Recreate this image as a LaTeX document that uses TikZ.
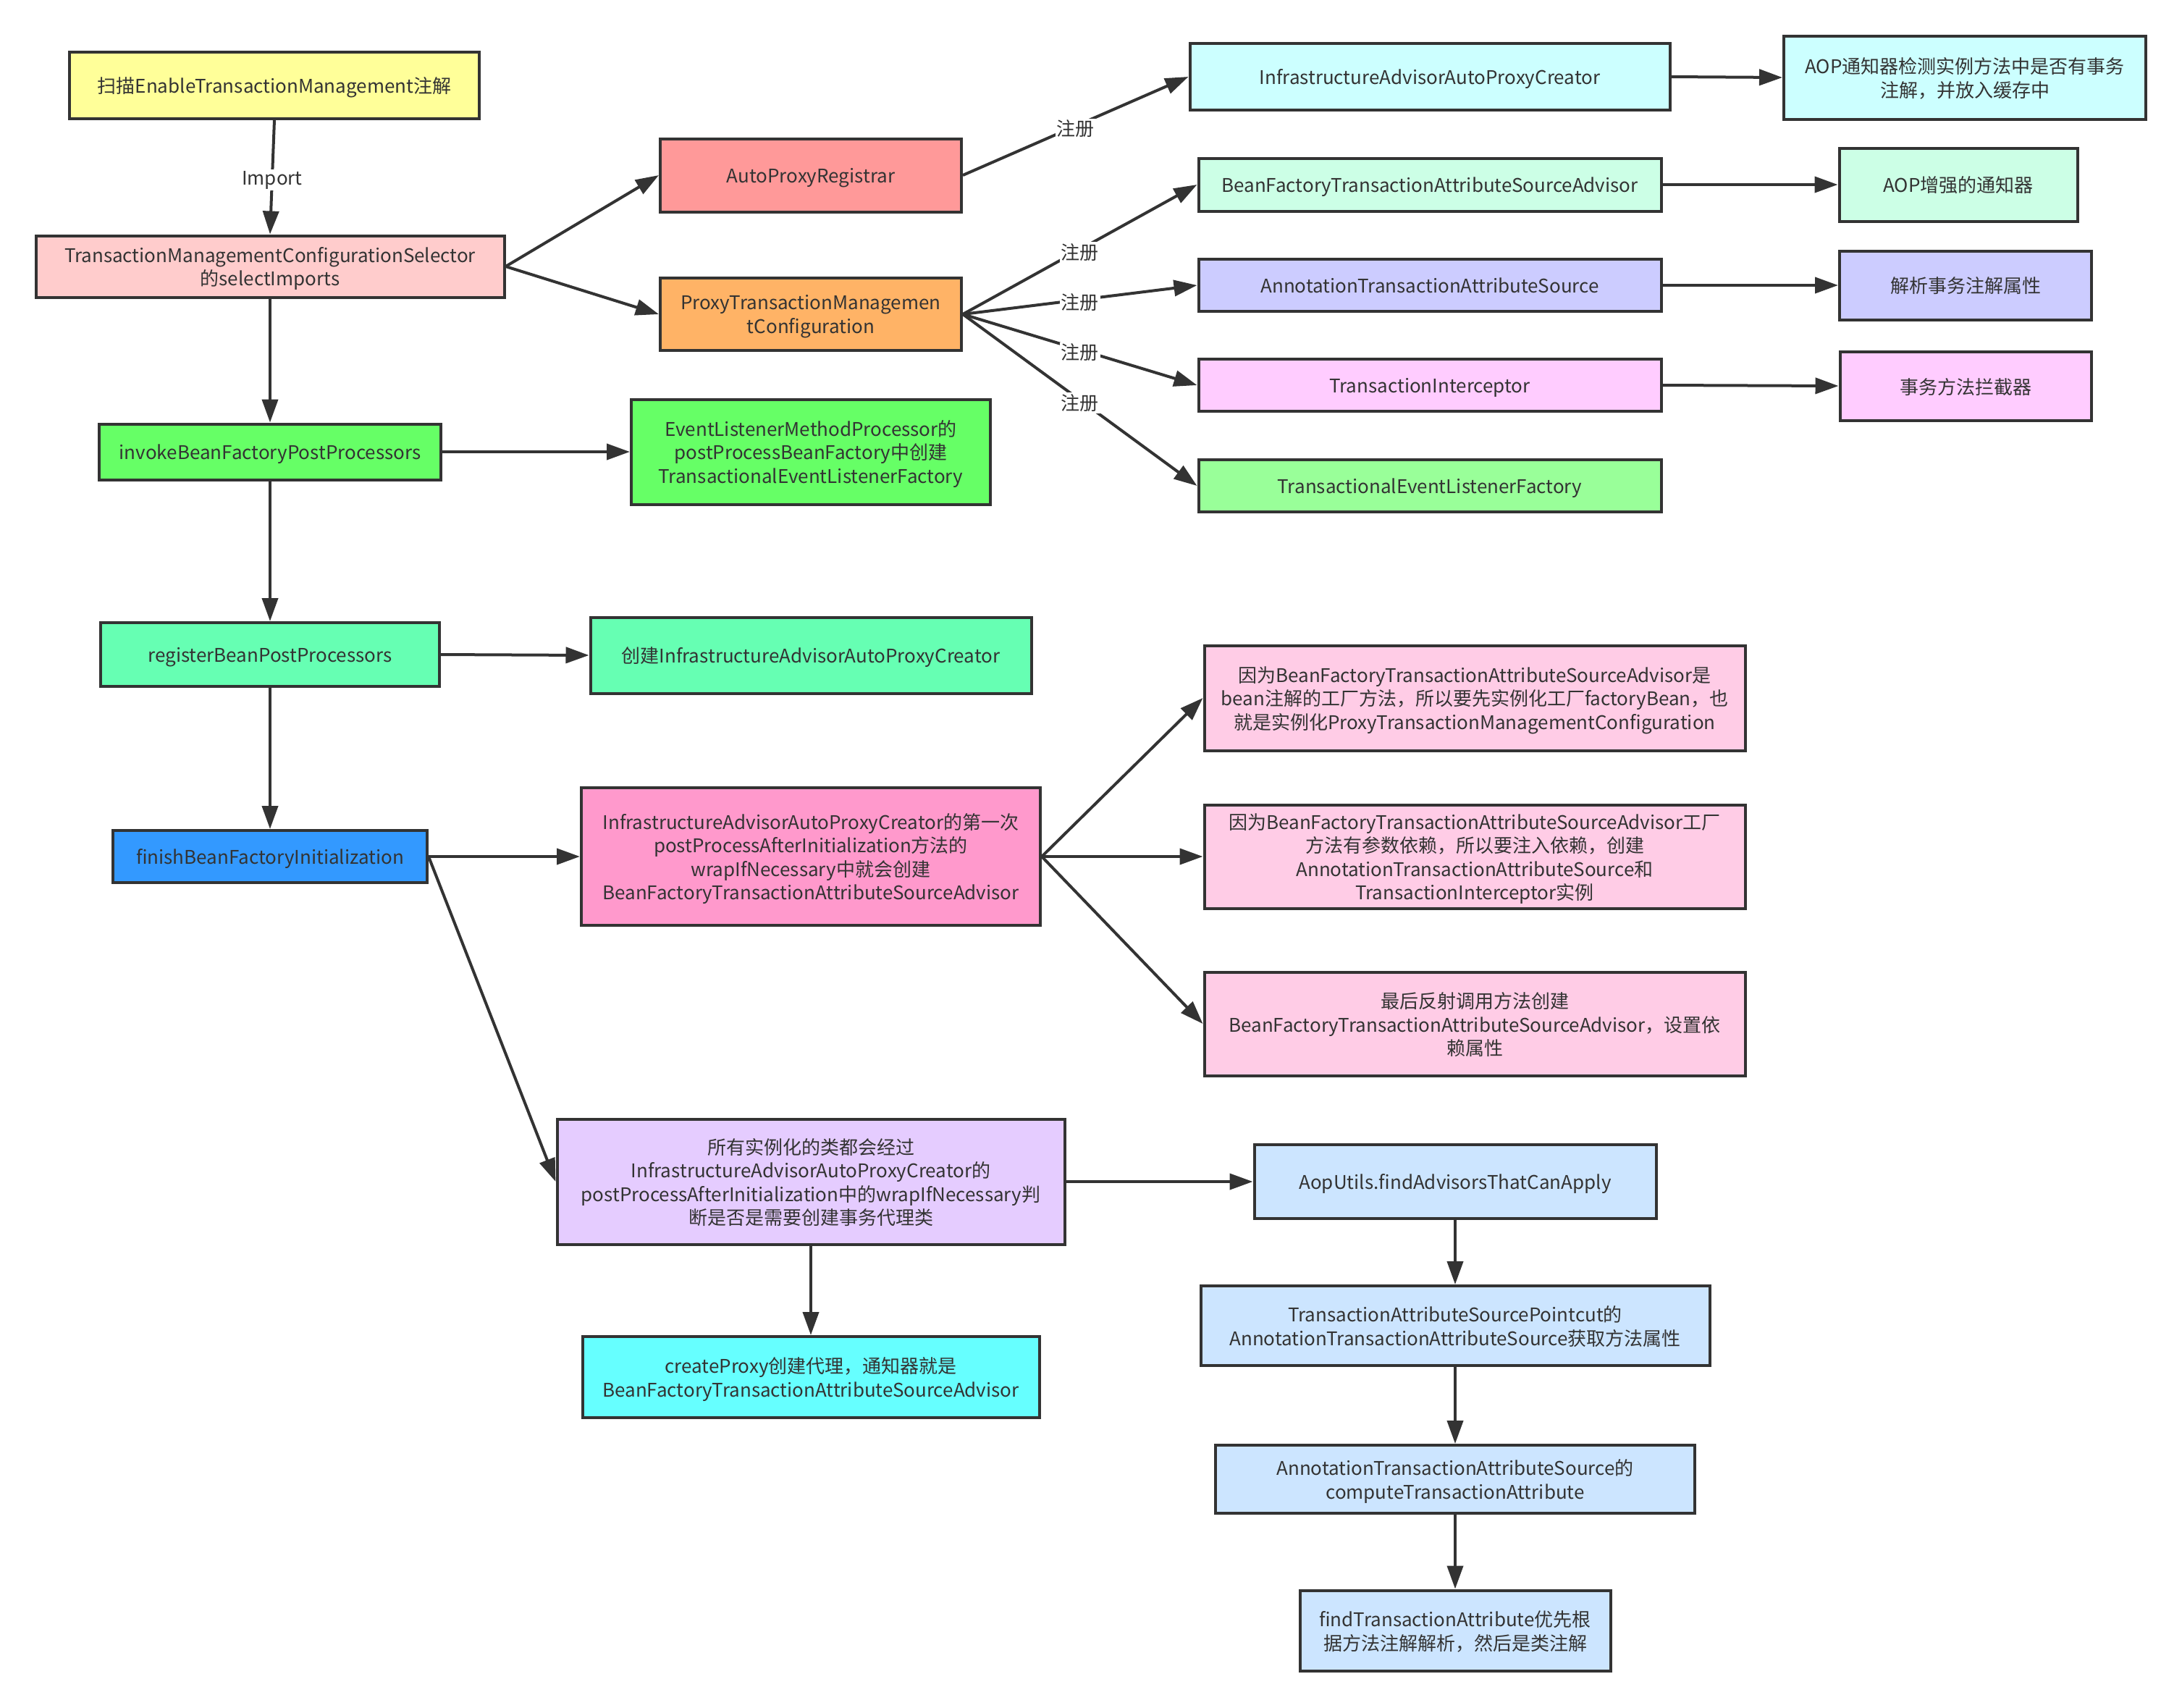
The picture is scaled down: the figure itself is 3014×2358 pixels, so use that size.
\documentclass[tikz,border=0pt]{standalone}
\usepackage{fontspec}
\setmainfont{Noto Sans CJK SC}
\usetikzlibrary{arrows.meta}
\definecolor{ink}{HTML}{333333}
\definecolor{cyel}{HTML}{FFFF99}
\definecolor{csel}{HTML}{FFCCCC}
\definecolor{capr}{HTML}{FF9999}
\definecolor{cptm}{HTML}{FFB366}
\definecolor{cgrn}{HTML}{66FF66}
\definecolor{creg}{HTML}{66FFB3}
\definecolor{cfin}{HTML}{3399FF}
\definecolor{cfst}{HTML}{FF99CC}
\definecolor{call}{HTML}{E5CCFF}
\definecolor{cprx}{HTML}{66FFFF}
\definecolor{ccyn}{HTML}{CCFFFF}
\definecolor{cmnt}{HTML}{CCFFE6}
\definecolor{clil}{HTML}{CCCCFF}
\definecolor{cmag}{HTML}{FFCCFF}
\definecolor{clim}{HTML}{99FF99}
\definecolor{cwhy}{HTML}{FFCCE6}
\definecolor{cblu}{HTML}{CCE5FF}
\begin{document}
\begin{tikzpicture}[x=0.5pt,y=-0.5pt,
  every node/.style={font=\fontsize{13}{16.2}\selectfont,text=ink},
  box/.style={draw=ink,line width=2pt,align=center,inner sep=0pt,text depth=-1pt},
  sz/.style 2 args={minimum width=#1*0.5pt,minimum height=#2*0.5pt},
  conn/.style={draw=ink,line width=2pt,-{Triangle[length=16pt,width=11pt]}},
  lab/.style={fill=white,inner sep=1pt,yshift=-2pt}]
\useasboundingbox (0,0) rectangle (3014,2358);
\node[box,sz={566}{92},fill=cyel] (scan) at (379,118) {扫描EnableTransactionManagement注解};
\node[box,sz={647}{85},fill=csel] (sel) at (373,368) {TransactionManagementConfigurationSelector\\的selectImports};
\node[box,sz={416}{101},fill=capr] (apr) at (1120,242) {AutoProxyRegistrar};
\node[box,sz={416}{100},fill=cptm] (ptmc) at (1120,434) {ProxyTransactionManagemen\\tConfiguration};
\node[box,sz={472}{77},fill=cgrn] (invoke) at (373,624) {invokeBeanFactoryPostProcessors};
\node[box,sz={496}{145},fill=cgrn] (elmp) at (1120,624) {EventListenerMethodProcessor的\\postProcessBeanFactory中创建\\TransactionalEventListenerFactory};
\node[box,sz={468}{88},fill=creg] (reg) at (373,904) {registerBeanPostProcessors};
\node[box,sz={609}{105},fill=creg] (create) at (1120,905) {创建InfrastructureAdvisorAutoProxyCreator};
\node[box,sz={434}{72},fill=cfin] (finish) at (373,1183) {finishBeanFactoryInitialization};
\node[box,sz={634}{190},fill=cfst] (first) at (1120,1183) {InfrastructureAdvisorAutoProxyCreator的第一次\\postProcessAfterInitialization方法的\\wrapIfNecessary中就会创建\\BeanFactoryTransactionAttributeSourceAdvisor};
\node[box,sz={701}{173},fill=call] (all) at (1120,1632) {所有实例化的类都会经过\\InfrastructureAdvisorAutoProxyCreator的\\postProcessAfterInitialization中的wrapIfNecessary判\\断是否是需要创建事务代理类};
\node[box,sz={631}{112},fill=cprx] (proxy) at (1120,1902) {createProxy创建代理，通知器就是\\BeanFactoryTransactionAttributeSourceAdvisor};
\node[box,sz={663}{92},fill=ccyn] (iaapc) at (1975,106) {InfrastructureAdvisorAutoProxyCreator};
\node[box,sz={500}{115},fill=ccyn] (aopchk) at (2714,107) {AOP通知器检测实例方法中是否有事务\\注解，并放入缓存中};
\node[box,sz={639}{73},fill=cmnt] (bftasa) at (1975,255) {BeanFactoryTransactionAttributeSourceAdvisor};
\node[box,sz={329}{101},fill=cmnt] (aopadv) at (2705,255) {AOP增强的通知器};
\node[box,sz={639}{72},fill=clil] (atas) at (1975,394) {AnnotationTransactionAttributeSource};
\node[box,sz={348}{95},fill=clil] (parse) at (2715,394) {解析事务注解属性};
\node[box,sz={639}{72},fill=cmag] (ti) at (1975,532) {TransactionInterceptor};
\node[box,sz={347}{95},fill=cmag] (intc) at (2715,533) {事务方法拦截器};
\node[box,sz={639}{72},fill=clim] (telf) at (1975,671) {TransactionalEventListenerFactory};
\node[box,sz={747}{145},fill=cwhy] (why1) at (2037,964) {因为BeanFactoryTransactionAttributeSourceAdvisor是\\bean注解的工厂方法，所以要先实例化工厂factoryBean，也\\就是实例化ProxyTransactionManagementConfiguration};
\node[box,sz={747}{143},fill=cwhy] (why2) at (2037,1183) {因为BeanFactoryTransactionAttributeSourceAdvisor工厂\\方法有参数依赖，所以要注入依赖，创建\\AnnotationTransactionAttributeSource和\\TransactionInterceptor实例};
\node[box,sz={747}{143},fill=cwhy] (why3) at (2037,1414) {最后反射调用方法创建\\BeanFactoryTransactionAttributeSourceAdvisor，设置依\\赖属性};
\node[box,sz={555}{102},fill=cblu] (aop) at (2010,1632) {AopUtils.findAdvisorsThatCanApply};
\node[box,sz={703}{110},fill=cblu] (tasp) at (2010,1831) {TransactionAttributeSourcePointcut的\\AnnotationTransactionAttributeSource获取方法属性};
\node[box,sz={662}{94},fill=cblu] (comp) at (2010,2043) {AnnotationTransactionAttributeSource的\\computeTransactionAttribute};
\node[box,sz={429}{111},fill=cblu] (find) at (2010,2252) {findTransactionAttribute优先根\\据方法注解解析，然后是类注解};
\draw[conn] (scan.south) -- (sel.north) node[lab,midway]{Import};
\draw[conn] (apr.east) -- (iaapc.west) node[lab,midway]{注册};
\foreach \b in {bftasa,atas,ti,telf}
  \draw[conn] (ptmc.east) -- (\b.west) node[lab,midway]{注册};
\foreach \a/\b in {sel/apr,sel/ptmc,iaapc/aopchk,bftasa/aopadv,atas/parse,ti/intc,invoke/elmp,reg/create,finish/first,finish/all,first/why1,first/why2,first/why3,all/aop}
  \draw[conn] (\a.east) -- (\b.west);
\foreach \a/\b in {sel/invoke,invoke/reg,reg/finish,all/proxy,aop/tasp,tasp/comp,comp/find}
  \draw[conn] (\a.south) -- (\b.north);
\end{tikzpicture}
\end{document}
